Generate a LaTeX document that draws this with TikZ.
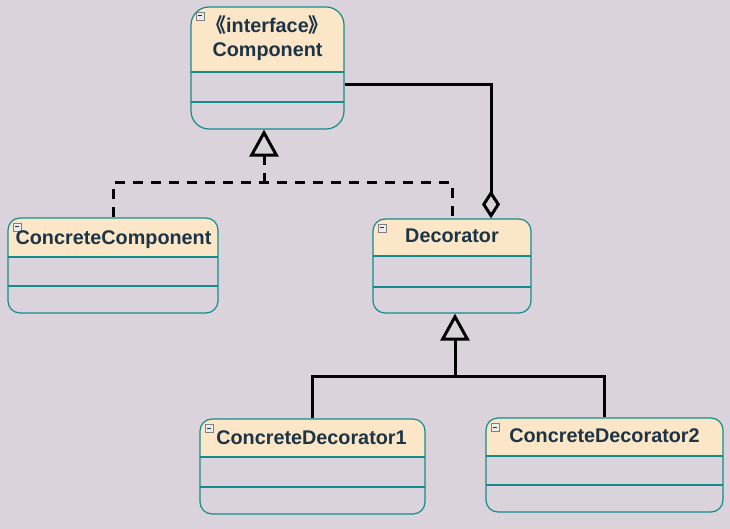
\documentclass[tikz,border=0pt]{standalone}
\usepackage{fontspec}
\setmainfont{Liberation Sans}
\newfontfamily\cjk{Noto Sans CJK SC}
\usepackage{xcolor}
\usepackage{tikz}
\usetikzlibrary{arrows.meta,calc}
\definecolor{bgcol}{RGB}{219,211,219}
\definecolor{headcol}{RGB}{252,230,200}
\definecolor{edgecol}{RGB}{20,140,140}
\definecolor{titlecol}{RGB}{28,52,68}
\tikzstyle{classbox} = [draw=edgecol, line width=1.2pt, inner sep=0pt]
\tikzstyle{title} = [text=titlecol, font=\fontsize{19.8}{24}\selectfont\bfseries, inner sep=0pt, anchor=base]
\tikzstyle{fold} = [draw=gray, fill=gray!15, line width=0.6pt]
\tikzstyle{link} = [line width=3pt]
\tikzstyle{realize} = [link, dash pattern=on 10pt off 8pt]
\tikzstyle{inherit} = [-{Triangle[open, length=27pt, width=29pt]}]
\tikzstyle{aggregate} = [-{Diamond[open, length=28pt, width=18pt]}]

\begin{document}
\begin{tikzpicture}[x=1pt, y=-1pt]
  \fill[bgcol] (0,0) rectangle (730,529);

  % name/left/top/right/bottom/line1/line2/corner
  \foreach \n/\xa/\ya/\xb/\yb/\da/\db/\r in {comp/191/7/344/129/72/102/18,
      ccomp/8/218/218/313/257/286/12, dec/373/219/531/313/256/287/12,
      cdeco1/200/419/425/514/457/487/12, cdeco2/486/418/723/512/456/485/12} {
    \begin{scope}
      \clip (\xa,\ya) rectangle (\xb,\da);
      \fill[headcol, rounded corners=\r pt] (\xa,\ya) rectangle (\xb,\yb);
    \end{scope}
    \node[classbox, rounded corners=\r pt, minimum width={(\xb-\xa)*1pt},
      minimum height={(\yb-\ya)*1pt}] (\n) at ({(\xa+\xb)/2},{(\ya+\yb)/2}) {};
    \draw[edgecol, line width=1.2pt] (\xa,\da) -- (\xb,\da) (\xa,\db) -- (\xb,\db);
    \draw[fold] (\xa+5,\ya+5) rectangle +(8,8);
    \draw[titlecol, line width=1pt] (\xa+6.8,\ya+9) -- +(4.4,0);
  }

  \node[title] (compS) at (267.5,33) {{\cjk 《}interface{\cjk 》}};
  \node[title] (compT) at (267.5,57) {Component};
  \node[title] (ccompT) at (113.5,244) {ConcreteComponent};
  \node[title] (decT) at (452,243) {Decorator};
  \node[title] (cdeco1T) at (311.5,444) {ConcreteDecorator1};
  \node[title] (cdeco2T) at (604.5,442) {ConcreteDecorator2};

  \coordinate (compin) at ($(comp.south)+(-3.5,0)$);
  \coordinate (decin) at ($(dec.south)+(3,0)$);
  \coordinate (realj) at (compin |- 0,183);
  \coordinate (aggc) at (491,85);
  \coordinate (genj) at (decin |- 0,376);

  \draw[realize] (ccomp.north) |- (realj) -| (dec.north);
  \draw[realize, inherit] (realj) -- (compin);
  \draw[link, aggregate] (comp.east |- aggc) -| (dec.north -| aggc);
  \draw[link, inherit] (genj) -- (decin);
  \draw[link] (cdeco1.north) |- (genj) -| (cdeco2.north);
\end{tikzpicture}
\end{document}
